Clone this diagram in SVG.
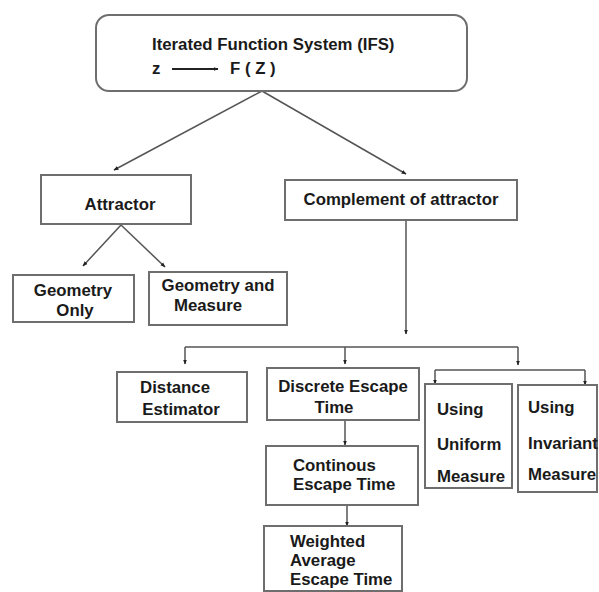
<svg xmlns="http://www.w3.org/2000/svg" width="599" height="592" viewBox="0 0 599 592">
<defs>
<marker id="ah" viewBox="0 0 10 10" refX="9" refY="5" markerWidth="5" markerHeight="5" orient="auto" markerUnits="userSpaceOnUse">
<path d="M0,1 L10,5 L0,9 z" fill="#222"/>
</marker>
<style>
.box{fill:#fff;stroke:#6e6e6e;stroke-width:2}
.t{font-family:"Liberation Sans",Arial,sans-serif;font-weight:bold;font-size:16.8px;fill:#1a1a1a}
.c{stroke:#555;stroke-width:1.5;fill:none}
.a{stroke:#555;stroke-width:1.5;fill:none;marker-end:url(#ah)}
</style>
</defs>
<rect width="599" height="592" fill="#fff"/>
<g id="connectors">
<line class="a" x1="262" y1="91" x2="114" y2="170"/>
<line class="a" x1="262" y1="91" x2="406" y2="174"/>
<line class="a" x1="121" y1="225" x2="83" y2="266"/>
<line class="a" x1="121" y1="225" x2="165" y2="267"/>
<line class="a" x1="406" y1="220" x2="406" y2="334"/>
<line class="c" x1="185" y1="347" x2="518" y2="347"/>
<line class="a" x1="185" y1="347" x2="185" y2="364"/>
<line class="a" x1="345" y1="347" x2="345" y2="364"/>
<line class="a" x1="518" y1="347" x2="518" y2="365"/>
<line class="c" x1="435" y1="370" x2="585" y2="370"/>
<line class="a" x1="435" y1="370" x2="435" y2="384"/>
<line class="a" x1="585" y1="370" x2="585" y2="385"/>
<line class="a" x1="345" y1="420" x2="345" y2="445"/>
<line class="a" x1="347" y1="505" x2="347" y2="526"/>
</g>
<g id="ifs">
<rect class="box" x="96" y="15" width="371" height="76" rx="13"/>
<text class="t" x="152" y="50">Iterated Function System (IFS)</text>
<text class="t" x="152" y="74">z</text>
<line class="a" x1="172" y1="69" x2="218" y2="69" style="stroke:#222;stroke-width:2"/>
<text class="t" x="230" y="74">F ( Z )</text>
</g>
<g id="attractor">
<rect class="box" x="41" y="175" width="150" height="49"/>
<text class="t" x="120" y="210" text-anchor="middle">Attractor</text>
</g>
<g id="geometry-only">
<rect class="box" x="13" y="275" width="121" height="47"/>
<text class="t" x="73" y="296" text-anchor="middle">Geometry</text>
<text class="t" x="75" y="316" text-anchor="middle">Only</text>
</g>
<g id="geometry-measure">
<rect class="box" x="149" y="272" width="138" height="53"/>
<text class="t" x="218" y="291" text-anchor="middle">Geometry and</text>
<text class="t" x="208" y="311" text-anchor="middle">Measure</text>
</g>
<g id="complement">
<rect class="box" x="285" y="180" width="232" height="40"/>
<text class="t" x="401" y="205" text-anchor="middle">Complement of attractor</text>
</g>
<g id="distance">
<rect class="box" x="117" y="372" width="130" height="50"/>
<text class="t" x="175" y="393" text-anchor="middle">Distance</text>
<text class="t" x="181" y="415" text-anchor="middle">Estimator</text>
</g>
<g id="discrete">
<rect class="box" x="267" y="368" width="152" height="52"/>
<text class="t" x="343" y="392" text-anchor="middle">Discrete Escape</text>
<text class="t" x="334" y="413" text-anchor="middle">Time</text>
</g>
<g id="continous">
<rect class="box" x="266" y="446" width="152" height="59"/>
<text class="t" x="293" y="471">Continous</text>
<text class="t" x="293" y="490">Escape Time</text>
</g>
<g id="weighted">
<rect class="box" x="264" y="526" width="138" height="65"/>
<text class="t" x="290" y="547">Weighted</text>
<text class="t" x="290" y="566">Average</text>
<text class="t" x="290" y="585">Escape Time</text>
</g>
<g id="uniform">
<rect class="box" x="425" y="384" width="87" height="104"/>
<text class="t" x="437" y="415">Using</text>
<text class="t" x="437" y="450">Uniform</text>
<text class="t" x="437" y="482">Measure</text>
</g>
<g id="invariant">
<rect class="box" x="518" y="385" width="79" height="107"/>
<text class="t" x="528" y="413">Using</text>
<text class="t" x="528" y="449">Invariant</text>
<text class="t" x="528" y="480">Measure</text>
</g>
</svg>
